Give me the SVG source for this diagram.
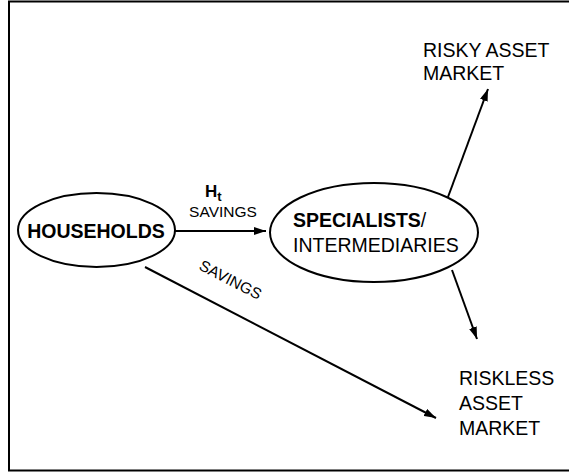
<svg xmlns="http://www.w3.org/2000/svg" width="569" height="472" viewBox="0 0 569 472">
<style>
text{font-family:"Liberation Sans",Arial,sans-serif;fill:#000}
.big{font-size:19.5px}
.b{font-weight:bold}
.sm{font-size:15.5px}
.node{fill:#fff;stroke:#000;stroke-width:2}
.conn{stroke:#000;stroke-width:2;fill:none}
</style>
<defs>
<marker id="ah" viewBox="0 0 12 8" refX="12" refY="4" markerWidth="6" markerHeight="4" orient="auto" markerUnits="strokeWidth">
<path d="M0,0 L12,4 L0,8 Z" fill="#000"/>
</marker>
</defs>
<rect x="9" y="1.5" width="600" height="469" fill="#fff" stroke="#000" stroke-width="2"/>
<g id="connectors">
<line class="conn" x1="175" y1="231" x2="266" y2="231" marker-end="url(#ah)"/>
<line class="conn" x1="448" y1="197" x2="488" y2="89" marker-end="url(#ah)"/>
<line class="conn" x1="452" y1="270" x2="477" y2="339" marker-end="url(#ah)"/>
<line class="conn" x1="145" y1="267" x2="436" y2="418" marker-end="url(#ah)"/>
<text class="b" x="205" y="197" font-size="17">H<tspan font-size="13" dy="4">t</tspan></text>
<text class="sm" x="223" y="216.5" text-anchor="middle">SAVINGS</text>
<text class="sm" transform="translate(228,284.5) rotate(27.4)" text-anchor="middle">SAVINGS</text>
</g>
<g id="households">
<ellipse class="node" cx="96.5" cy="230" rx="78.5" ry="37"/>
<text class="big b" x="96" y="237.5" text-anchor="middle">HOUSEHOLDS</text>
</g>
<g id="specialists">
<ellipse class="node" cx="374" cy="232.5" rx="104" ry="49.5"/>
<text class="big" x="293" y="226.5"><tspan class="b">SPECIALISTS</tspan>/</text>
<text class="big" x="293" y="252">INTERMEDIARIES</text>
</g>
<g id="risky">
<text class="big" x="423" y="57">RISKY ASSET</text>
<text class="big" x="423" y="80">MARKET</text>
</g>
<g id="riskless">
<text class="big" x="459" y="385">RISKLESS</text>
<text class="big" x="459" y="410">ASSET</text>
<text class="big" x="459" y="434.5">MARKET</text>
</g>
</svg>
